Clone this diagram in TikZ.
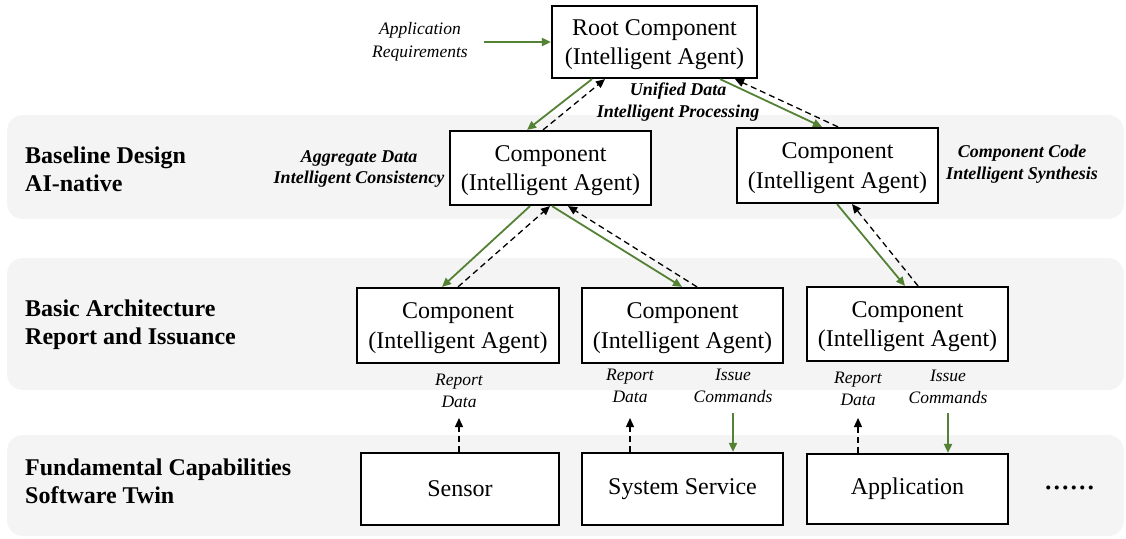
\documentclass[tikz,border=0pt]{standalone}
\usepackage{fontspec}
\setmainfont{Liberation Serif}
\usetikzlibrary{arrows.meta,calc}
\definecolor{arrgreen}{RGB}{84,130,53}
\definecolor{bandgray}{RGB}{244,244,244}
\tikzset{
  comp/.style={draw=black, line width=2.2pt, fill=white, inner sep=0pt, align=center,
    font=\fontsize{24}{29.5}\selectfont},
  twoline/.style={text depth=-2pt},
  band/.style={fill=bandgray, rounded corners=16pt},
  title/.style={anchor=west, align=left, inner sep=0pt, font=\fontsize{24}{28}\selectfont\bfseries},
  lab/.style={align=center, inner sep=0pt, font=\fontsize{17.5}{22.5}\selectfont\itshape},
  blab/.style={align=center, inner sep=0pt, font=\fontsize{18}{21.5}\selectfont\bfseries\itshape},
  down/.style={draw=arrgreen, line width=1.8pt, -{Triangle[length=9pt,width=8pt]}},
  up/.style={draw=black, line width=1.3pt, dash pattern=on 6pt off 4pt, -{Triangle[length=9pt,width=8pt]}},
}
\begin{document}
\begin{tikzpicture}[x=1pt,y=-1pt]
\useasboundingbox (0,0) rectangle (1126,538);
% bands
\fill[band] (7,115) rectangle (1124,219);
\fill[band] (7,258) rectangle (1124,390);
\fill[band] (7,435) rectangle (1124,536);
% titles
\node[title] (t1) at (25,169) {Baseline Design\\AI-native};
\node[title] (t2) at (25,325) {Basic Architecture\\Report and Issuance};
\node[title] (t3) at (25,481) {Fundamental Capabilities\\Software Twin};
% boxes
\node[comp, twoline, minimum width=205pt, minimum height=72pt] (root) at (654.5,42) {Root Component\\(Intelligent Agent)};
\node[comp, twoline, minimum width=201pt, minimum height=74pt] (ml) at (550.5,168) {Component\\(Intelligent Agent)};
\node[comp, twoline, minimum width=201pt, minimum height=75pt] (mr) at (837.5,165.5) {Component\\(Intelligent Agent)};
\node[comp, twoline, minimum width=202pt, minimum height=75pt] (ll) at (458,325.5) {Component\\(Intelligent Agent)};
\node[comp, twoline, minimum width=201pt, minimum height=75pt] (lm) at (682.5,325.5) {Component\\(Intelligent Agent)};
\node[comp, twoline, minimum width=201pt, minimum height=74pt] (lr) at (907.5,324) {Component\\(Intelligent Agent)};
\node[comp, minimum width=198pt, minimum height=72pt] (sensor) at (460,489) {Sensor};
\node[comp, minimum width=201pt, minimum height=72pt] (sys) at (682.5,489) {System Service};
\node[comp, minimum width=201pt, minimum height=70pt] (app) at (907.5,489) {Application};
\node[inner sep=0pt, anchor=base, font=\fontsize{34}{36}\selectfont] (dots) at (1069.5,489) {......};
% labels
\node[lab] (appreq) at (420,42) {Application\\Requirements};
\node[blab] (unified) at (678,102) {Unified Data\\Intelligent Processing};
\node[blab] (aggr) at (359,169) {Aggregate Data\\Intelligent Consistency};
\node[blab] (ccode) at (1022,164) {Component Code\\Intelligent Synthesis};
\node[lab] (rd1) at (459,391) {Report\\Data};
\node[lab] (rd2) at (630,386) {Report\\Data};
\node[lab] (ic2) at (733,386) {Issue\\Commands};
\node[lab] (rd3) at (858,389) {Report\\Data};
\node[lab] (ic3) at (948,387) {Issue\\Commands};
% top-level connectors
\coordinate (reqstart) at (484,42);
\draw[down] (reqstart) -- (root.west);
\draw[down] ($(root.south)+(-62.5,0)$) -- ($(ml.north)+(-23.5,0)$);
\draw[up] ($(ml.north)+(-7.5,0)$) -- ($(root.south)+(-49.5,0)$);
\draw[down] ($(root.south)+(65.5,0)$) -- ($(mr.north)+(-15.5,0)$);
\draw[up] ($(mr.north)+(0.5,0)$) -- ($(root.south)+(80.5,0)$);
\draw[down] ($(ml.south)+(-20.5,0)$) -- ($(ll.north)+(-16,0)$);
\draw[up] ($(ll.north)+(0,0)$) -- ($(ml.south)+(-0.5,0)$);
\draw[down] ($(ml.south)+(1.5,0)$) -- ($(lm.north)+(-0.5,0)$);
\draw[up] ($(lm.north)+(14.5,0)$) -- ($(ml.south)+(17.5,0)$);
\draw[down] ($(mr.south)+(-0.5,0)$) -- ($(lr.north)+(-2.5,0)$);
\draw[up] ($(lr.north)+(10.5,0)$) -- ($(mr.south)+(14.5,0)$);
% bottom connectors
\coordinate (e1) at (459,418);
\coordinate (e2) at (630,418);
\coordinate (s2) at (733,413);
\coordinate (e3) at (858,418);
\coordinate (s3) at (948,413);
\draw[up] ($(sensor.north)+(-1,0)$) -- (e1);
\draw[up] ($(sys.north)+(-52.5,0)$) -- (e2);
\draw[down] (s2) -- ($(sys.north)+(50.5,0)$);
\draw[up] ($(app.north)+(-49.5,0)$) -- (e3);
\draw[down] (s3) -- ($(app.north)+(40.5,0)$);
\end{tikzpicture}
\end{document}
